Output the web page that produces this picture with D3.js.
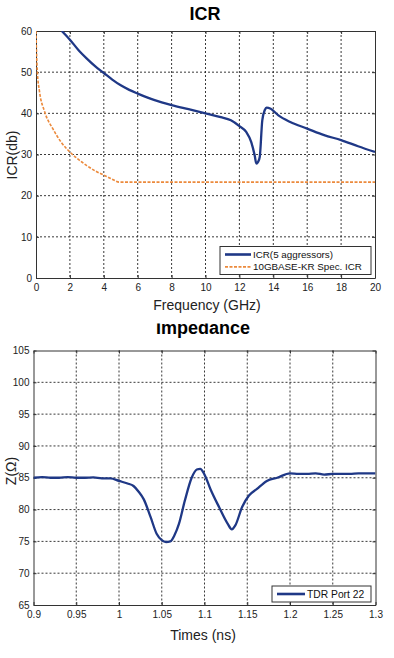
<!DOCTYPE html>
<html>
<head>
<meta charset="utf-8">
<script src="https://cdn.jsdelivr.net/npm/d3@7"></script>
<style>
	body { margin: 0; background: #fff; }
	text { font-family: "Liberation Sans", Arial, sans-serif; }
</style>
</head>
<body>
<div id="chart"></div>
<script>
	// ICR chart data
	var icrFreq = [1.52, 2, 2.5, 3, 3.5, 4, 4.5, 5, 5.5, 6, 7, 8, 9, 10, 10.9, 11.5, 12, 12.4, 12.7, 12.9, 13.0, 13.1, 13.2, 13.35, 13.5, 13.6, 13.85, 14.3, 15, 16, 17, 18, 19, 20];
	var icrValues = [60, 57.9, 55.4, 53.3, 51.4, 49.8, 48.2, 46.8, 45.7, 44.8, 43.2, 42, 41, 40, 39.1, 38.3, 36.9, 35.5, 33, 29.8, 27.8, 28.2, 29.4, 38.3, 40.8, 41.4, 41.1, 39.5, 37.9, 36.3, 34.7, 33.5, 32, 30.6];
	var specFreq = [0, 0.03, 0.08, 0.2, 0.5, 1, 1.5, 2, 2.5, 3, 3.5, 4, 4.5, 4.9, 20];
	var specValues = [60, 55, 50, 45.5, 40.5, 36.2, 32.9, 30.6, 28.8, 27.3, 26, 25, 24, 23.3, 23.3];
	var icrXTicks = [0, 2, 4, 6, 8, 10, 12, 14, 16, 18, 20];
	var icrYTicks = [0, 10, 20, 30, 40, 50, 60];

	// Impedance chart data
	var tdrTime = [0.9, 0.91, 0.92, 0.93, 0.94, 0.95, 0.96, 0.97, 0.98, 0.99, 1.0, 1.01, 1.017, 1.023, 1.029, 1.037, 1.044, 1.05, 1.055, 1.06, 1.065, 1.07, 1.077, 1.085, 1.091, 1.095, 1.1, 1.107, 1.117, 1.127, 1.132, 1.136, 1.144, 1.152, 1.161, 1.173, 1.185, 1.2, 1.21, 1.22, 1.23, 1.24, 1.25, 1.26, 1.27, 1.28, 1.29, 1.3];
	var tdrZ = [85.0, 85.1, 85.0, 85.0, 85.1, 85.0, 85.0, 85.05, 84.9, 84.9, 84.5, 84.1, 83.7, 82.8, 81.6, 78.8, 76.2, 75.2, 74.9, 75.0, 76.0, 77.7, 81.4, 85.0, 86.3, 86.4, 85.5, 83.2, 80.4, 77.8, 76.9, 77.5, 80.4, 82.2, 83.2, 84.5, 85.0, 85.7, 85.6, 85.6, 85.7, 85.5, 85.6, 85.6, 85.6, 85.7, 85.7, 85.7];
	var tdrXTicks = [0.9, 0.95, 1, 1.05, 1.1, 1.15, 1.2, 1.25, 1.3];
	var tdrYTicks = [65, 70, 75, 80, 85, 90, 95, 100, 105];

	var blue = "#1f3886";
	var orange = "#ec8a3c";

	var svg = d3.select("#chart").append("svg")
		.attr("width", 394)
		.attr("height", 658);

	svg.append("rect").attr("width", 394).attr("height", 658).attr("fill", "#fff");

	function drawPanel(p) {
		var x = d3.scaleLinear().domain(p.xDomain).range([p.left, p.right]);
		var y = d3.scaleLinear().domain(p.yDomain).range([p.bottom, p.top]);
		var g = svg.append("g");

		var clipId = "clip" + p.id;
		g.append("clipPath").attr("id", clipId)
			.append("rect")
			.attr("x", p.left).attr("y", p.top)
			.attr("width", p.right - p.left).attr("height", p.bottom - p.top);

		// dotted grid
		g.selectAll(".vgrid")
			.data(p.xTicks.slice(1, -1))
			.enter().append("line")
			.attr("x1", function(d) { return x(d); })
			.attr("x2", function(d) { return x(d); })
			.attr("y1", p.top).attr("y2", p.bottom)
			.attr("stroke", "#222").attr("stroke-width", 0.9)
			.attr("stroke-dasharray", "2,2");
		g.selectAll(".hgrid")
			.data(p.yTicks.slice(1, -1))
			.enter().append("line")
			.attr("y1", function(d) { return y(d); })
			.attr("y2", function(d) { return y(d); })
			.attr("x1", p.left).attr("x2", p.right)
			.attr("stroke", "#222").attr("stroke-width", 0.9)
			.attr("stroke-dasharray", "2,2");

		// axes, ticks inward
		var xb = g.append("g").attr("transform", "translate(0," + p.bottom + ")")
			.call(d3.axisBottom(x).tickValues(p.xTicks).tickSizeInner(-3).tickSizeOuter(0).tickPadding(6).tickFormat(d3.format("")));
		var yl = g.append("g").attr("transform", "translate(" + p.left + ",0)")
			.call(d3.axisLeft(y).tickValues(p.yTicks).tickSizeInner(-3).tickSizeOuter(0).tickPadding(4).tickFormat(d3.format("")));
		g.append("g").attr("transform", "translate(0," + p.top + ")")
			.call(d3.axisTop(x).tickValues(p.xTicks).tickSizeInner(-3).tickSizeOuter(0).tickFormat(""));
		g.append("g").attr("transform", "translate(" + p.right + ",0)")
			.call(d3.axisRight(y).tickValues(p.yTicks).tickSizeInner(-3).tickSizeOuter(0).tickFormat(""));
		g.selectAll(".domain").attr("stroke", "#333").attr("stroke-width", 1);
		g.selectAll(".tick line").attr("stroke", "#333");
		xb.selectAll("text").attr("font-size", 10).attr("fill", "#222").attr("font-family", "Liberation Sans, Arial, sans-serif");
		yl.selectAll("text").attr("font-size", 10).attr("fill", "#222").attr("font-family", "Liberation Sans, Arial, sans-serif");

		// series
		var plot = g.append("g").attr("clip-path", "url(#" + clipId + ")");
		p.series.forEach(function(s) {
			var pts = s.xs.map(function(v, i) { return [v, s.ys[i]]; });
			plot.append("path")
				.datum(pts)
				.attr("fill", "none")
				.attr("stroke", s.color)
				.attr("stroke-width", s.width)
				.attr("stroke-dasharray", s.dash)
				.attr("stroke-linejoin", "round")
				.attr("d", d3.line()
					.x(function(d) { return x(d[0]); })
					.y(function(d) { return y(d[1]); })
					.curve(d3.curveMonotoneX));
		});

		// legend
		var lg = p.legend;
		g.append("rect")
			.attr("x", lg.x).attr("y", lg.y).attr("width", lg.w).attr("height", lg.h)
			.attr("fill", "#fff").attr("stroke", "#333").attr("stroke-width", 1);
		p.series.forEach(function(s, i) {
			var cy = lg.y + lg.rowStart + i * lg.rowStep;
			g.append("line")
				.attr("x1", lg.x + 5).attr("x2", lg.x + 5 + lg.lineLen)
				.attr("y1", cy).attr("y2", cy)
				.attr("stroke", s.color).attr("stroke-width", s.width + 0.3)
				.attr("stroke-dasharray", s.dash);
			g.append("text")
				.attr("x", lg.x + 7 + lg.lineLen).attr("y", cy)
				.attr("dy", "0.35em")
				.attr("font-size", lg.fontSize)
				.attr("fill", "#111")
				.text(s.name);
		});

		// labels
		svg.append("text")
			.attr("x", p.xLabelX).attr("y", p.xLabelY)
			.attr("text-anchor", "middle").attr("font-size", 14).attr("fill", "#222")
			.text(p.xLabel);
		svg.append("text")
			.attr("transform", "translate(" + p.yLabelX + "," + p.yLabelY + ") rotate(-90)")
			.attr("text-anchor", "middle").attr("dy", "0.35em")
			.attr("font-size", 14).attr("fill", "#222")
			.text(p.yLabel);
	}

	drawPanel({
		id: 1,
		xDomain: [0, 20], yDomain: [0, 60],
		left: 36, right: 375, top: 31, bottom: 278,
		xTicks: icrXTicks, yTicks: icrYTicks,
		series: [
			{ name: "ICR(5 aggressors)", xs: icrFreq, ys: icrValues, color: blue, width: 2.3, dash: null },
			{ name: "10GBASE-KR Spec. ICR", xs: specFreq, ys: specValues, color: orange, width: 1.6, dash: "3,1.5" }
		],
		legend: { x: 220, y: 246.5, w: 151, h: 28, rowStart: 8, rowStep: 12.4, lineLen: 26, fontSize: 9.8 },
		xLabel: "Frequency (GHz)", xLabelX: 207, xLabelY: 310,
		yLabel: "ICR(db)", yLabelX: 12, yLabelY: 155
	});

	drawPanel({
		id: 2,
		xDomain: [0.9, 1.3], yDomain: [65, 105],
		left: 33.5, right: 375.5, top: 350.5, bottom: 605,
		xTicks: tdrXTicks, yTicks: tdrYTicks,
		series: [
			{ name: "TDR Port 22", xs: tdrTime, ys: tdrZ, color: blue, width: 2.3, dash: null }
		],
		legend: { x: 272, y: 586, w: 99, h: 16, rowStart: 8, rowStep: 12, lineLen: 28, fontSize: 10.3 },
		xLabel: "Times (ns)", xLabelX: 203, xLabelY: 640,
		yLabel: "Z(\u03a9)", yLabelX: 11, yLabelY: 471
	});

	// titles
	svg.append("text")
		.attr("x", 205).attr("y", 20)
		.attr("text-anchor", "middle").attr("font-size", 18).attr("font-weight", "bold")
		.text("ICR");

	// the second title is cut off at the top in the source
	svg.append("clipPath").attr("id", "titleclip")
		.append("rect").attr("x", 0).attr("y", 323.5).attr("width", 394).attr("height", 30);
	svg.append("text")
		.attr("x", 203).attr("y", 333.5)
		.attr("clip-path", "url(#titleclip)")
		.attr("text-anchor", "middle").attr("font-size", 18).attr("font-weight", "bold")
		.text("Impedance");
</script>
</body>
</html>
